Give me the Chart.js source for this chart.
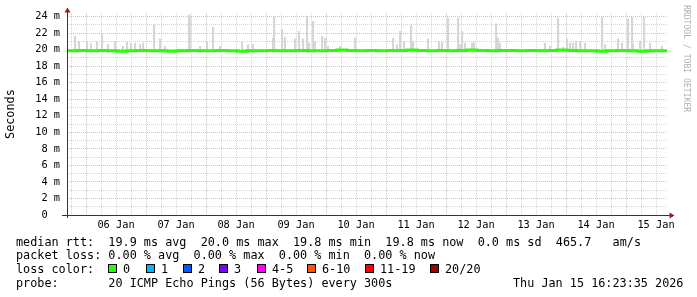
<!DOCTYPE html>
<html>
<head>
<meta charset="utf-8">
<script src="https://cdn.jsdelivr.net/npm/chart.js@4.4.1/dist/chart.umd.min.js"></script>
<style>
  html, body { margin:0; padding:0; background:#fff; }
  #wrap { position:relative; width:697px; height:297px; overflow:hidden; font-family:"DejaVu Sans Mono", monospace; color:#000; }
  #c { position:absolute; left:0; top:0; }
  .ln { position:absolute; font-size:11.8px; line-height:14px; white-space:pre; }
  .sq { position:absolute; top:264px; width:7px; height:7px; border:1px solid #000; }
  .wm { position:absolute; left:682px; top:5px; writing-mode:vertical-rl; font-size:8.1px; color:#b0b0b0; white-space:pre; }
</style>
</head>
<body>
<div id="wrap">
  <canvas id="c" width="697" height="297"></canvas>
  <div class="wm">RRDTOOL / TOBI OETIKER</div>
  <div id="legend"></div>
</div>
<script>
// hours counted from 05 Jan 00:00, graph spans 05 Jan 16:23:35 .. 15 Jan 16:23:35
const X_MIN = 16.393;
const X_MAX = 256.393;
const Y_MAX = 24.4;

const gridHours  = [18,24,30,36,42,48,54,60,66,72,78,84,90,96,102,108,114,120,126,132,138,144,150,156,162,168,174,180,186,192,198,204,210,216,222,228,234,240,246,252];
const labelHours = [36,60,84,108,132,156,180,204,228,252];
const dayLabels  = ['06 Jan','07 Jan','08 Jan','09 Jan','10 Jan','11 Jan','12 Jan','13 Jan','14 Jan','15 Jan'];
const yGrid      = [0,1,2,3,4,5,6,7,8,9,10,11,12,13,14,15,16,17,18,19,20,21,22,23,24];

// median rtt (ms), one value every 4 hours
const medianHours = [16.4,20.4,24.4,28.4,32.4,36.4,40.4,44.4,48.4,52.4,56.4,60.4,64.4,68.4,72.4,76.4,80.4,84.4,88.4,92.4,96.4,100.4,104.4,108.4,112.4,116.4,120.4,124.4,128.4,132.4,136.4,140.4,144.4,148.4,152.4,156.4,160.4,164.4,168.4,172.4,176.4,180.4,184.4,188.4,192.4,196.4,200.4,204.4,208.4,212.4,216.4,220.4,224.4,228.4,232.4,236.4,240.4,244.4,248.4,252.4,256.4];
const medianMs    = [19.85,19.9,19.85,19.9,19.85,19.8,19.85,19.9,19.85,19.85,19.8,19.85,19.9,19.85,19.85,19.9,19.85,19.8,19.85,19.85,19.9,19.85,19.85,19.9,19.85,19.85,19.9,19.95,19.9,19.85,19.9,19.85,19.9,19.9,19.95,19.9,19.85,19.9,19.85,19.9,19.95,19.9,19.85,19.9,19.9,19.85,19.9,19.85,19.9,19.95,19.9,19.85,19.85,19.8,19.85,19.9,19.85,19.8,19.85,19.85,19.8];

// smoke spikes (ms): time and top of the grey ping spread
const spikeBase  = 19.7;
const spikeHours = [19.6,21.2,24.4,26.0,28.4,30.4,32.8,35.6,38.8,40.4,42.0,43.6,45.6,46.8,51.2,53.6,55.6,65.2,65.6,69.6,72.4,74.8,
  77.6,86.4,88.8,90.8,98.8,99.2,102.4,103.6,107.6,109.2,110.8,112.4,113.2,114.8,115.6,118.4,119.6,120.8,125.6,131.6,
  146.8,148.4,149.6,151.2,154.0,154.8,160.8,165.2,166.4,168.8,172.8,173.6,174.4,175.6,178.4,179.2,188.0,188.8,189.6,
  207.6,209.6,212.8,214.8,216.4,217.6,218.8,220.0,221.6,223.6,230.4,231.6,236.8,238.4,240.8,242.4,242.8,245.6,247.2,249.6,254.4];
const spikeTopMs = [21.6,21.0,20.9,20.7,21.0,21.8,20.6,21.0,20.4,20.9,20.8,20.8,20.6,20.8,23.0,21.3,20.4,24.2,24.0,20.4,21.0,22.7,
  20.4,20.9,20.6,20.6,21.4,24.0,22.4,21.5,21.3,22.2,21.3,24.0,20.8,23.4,21.0,21.6,21.4,20.4,20.4,21.4,
  21.4,20.6,22.2,21.0,22.9,21.0,21.3,21.0,20.9,23.8,23.8,20.6,22.2,20.8,20.8,20.9,23.1,21.4,20.8,
  20.8,20.4,23.8,20.3,21.3,20.8,20.8,21.0,21.0,20.8,23.9,20.6,21.3,20.8,23.7,23.9,20.6,21.0,23.9,20.8,20.4];

const lossLabels = ['0','1','2','3','4-5','6-10','11-19','20/20'];
const lossColors = ['#26ff00','#00b8ff','#0059ff','#7e00ff','#ff00ff','#ff5500','#ff0000','#a10000'];
const lossSquareX = [108,146,183,219,257,307,365,430];

const MONO = '"DejaVu Sans Mono", monospace';
const MAJOR = 'rgba(230,130,130,0.6)';
const MINOR = 'rgba(175,175,175,0.55)';

const axisPlugin = {
  id: 'rrdAxes',
  afterDraw(chart) {
    const { ctx, chartArea: a } = chart;
    ctx.save();
    ctx.strokeStyle = '#333';
    ctx.lineWidth = 1;
    ctx.beginPath();
    ctx.moveTo(a.left + 0.5, 218); ctx.lineTo(a.left + 0.5, 11);
    ctx.moveTo(62, a.bottom + 0.5); ctx.lineTo(670, a.bottom + 0.5);
    ctx.stroke();
    ctx.fillStyle = '#9b1c1c';
    ctx.beginPath();
    ctx.moveTo(a.left + 0.5, 7.5); ctx.lineTo(a.left - 2.5, 12.5); ctx.lineTo(a.left + 3.5, 12.5);
    ctx.closePath(); ctx.fill();
    ctx.beginPath();
    ctx.moveTo(674.5, a.bottom + 0.5); ctx.lineTo(669.5, a.bottom - 2.5); ctx.lineTo(669.5, a.bottom + 3.5);
    ctx.closePath(); ctx.fill();
    ctx.restore();
  }
};

new Chart(document.getElementById('c'), {
  type: 'bar',
  data: {
    datasets: [
      {
        type: 'line', label: 'median rtt', order: 0,
        data: medianHours.map((h, i) => ({ x: h, y: medianMs[i] })),
        borderColor: '#26ff00', borderWidth: 3, pointRadius: 0, stepped: true
      },
      {
        type: 'bar', label: 'smoke', order: 1,
        data: spikeHours.map((h, i) => ({ x: h, y: [spikeBase, spikeTopMs[i]] })),
        backgroundColor: '#d6d6d6', barThickness: 1.5, borderWidth: 0
      }
    ]
  },
  options: {
    responsive: false,
    devicePixelRatio: 1,
    animation: false,
    layout: { padding: { top: 13, right: 30, left: 0, bottom: 0 } },
    plugins: { legend: { display: false }, tooltip: { enabled: false } },
    scales: {
      x: {
        type: 'linear', min: X_MIN, max: X_MAX, offset: false,
        afterBuildTicks: s => { s.ticks = gridHours.map(v => ({ value: v })); },
        ticks: { display: false },
        grid: { offset: false, color: c => (c.tick && c.tick.value % 24 === 0) ? MAJOR : MINOR, drawTicks: false },
        border: { display: false, dash: [1, 1] },
        afterFit: s => { s.height = 0; }
      },
      xl: {
        type: 'linear', position: 'bottom', min: X_MIN, max: X_MAX, offset: false,
        afterBuildTicks: s => { s.ticks = labelHours.map(v => ({ value: v })); },
        ticks: { autoSkip: false, maxRotation: 0, padding: 4, color: '#000',
          font: { family: MONO, size: 10.3 }, callback: (v, i) => dayLabels[i] },
        grid: { display: false, drawTicks: false, offset: false },
        border: { display: false },
        afterFit: s => { s.height = 82; }
      },
      y: {
        min: 0, max: Y_MAX,
        afterBuildTicks: s => { s.ticks = yGrid.map(v => ({ value: v })); },
        ticks: { autoSkip: false, padding: 7, color: '#000', font: { family: MONO, size: 10.3 },
          callback: v => v % 2 ? '' : (v ? v + ' m' : '0  ') },
        grid: { color: c => c.tick.value === 0 ? 'rgba(0,0,0,0)' : (c.tick.value % 2 ? MINOR : MAJOR), drawTicks: false },
        border: { display: false, dash: [1, 1] },
        title: { display: true, text: 'Seconds', color: '#000', font: { family: MONO, size: 11.8 }, padding: { top: 4, bottom: 0 } },
        afterFit: s => { s.width = 67; }
      }
    }
  },
  plugins: [axisPlugin]
});

// legend block under the graph
const legend = document.getElementById('legend');
const lines = [
  [16, 235, 'median rtt:  19.9 ms avg  20.0 ms max  19.8 ms min  19.8 ms now  0.0 ms sd  465.7   am/s'],
  [16, 248, 'packet loss: 0.00 % avg  0.00 % max  0.00 % min  0.00 % now'],
  [16, 262, 'loss color:'],
  [16, 276, 'probe:       20 ICMP Echo Pings (56 Bytes) every 300s'],
  [513, 276, 'Thu Jan 15 16:23:35 2026']
];
lines.forEach(([x, y, txt]) => {
  legend.insertAdjacentHTML('beforeend', `<div class="ln" style="left:${x}px;top:${y}px">${txt}</div>`);
});
lossLabels.forEach((lab, i) => {
  legend.insertAdjacentHTML('beforeend',
    `<div class="sq" style="left:${lossSquareX[i]}px;background:${lossColors[i]}"></div>` +
    `<div class="ln" style="left:${lossSquareX[i] + 15}px;top:262px">${lab}</div>`);
});
</script>
</body>
</html>
